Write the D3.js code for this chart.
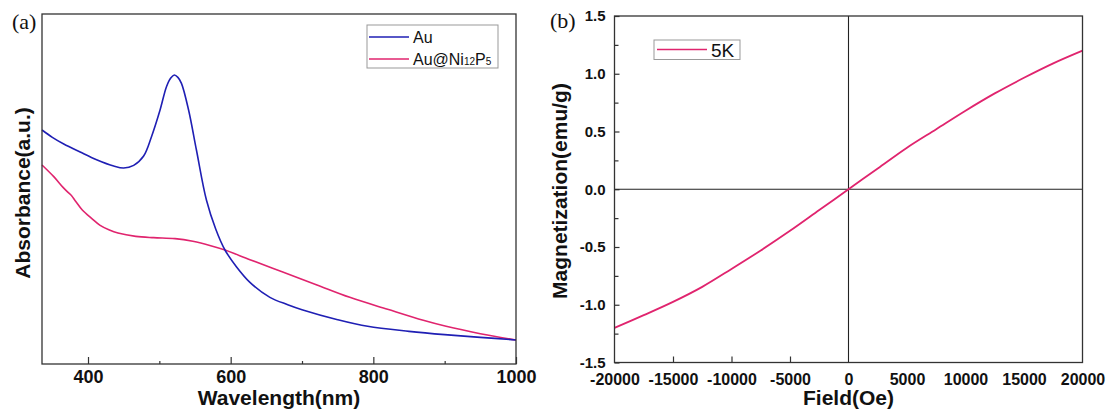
<!DOCTYPE html>
<html lang="en">
<head>
  <meta charset="UTF-8">
  <title>Au / Au@Ni12P5 absorbance and M-H curve</title>
  <script src="https://cdn.jsdelivr.net/npm/d3@7/dist/d3.min.js"></script>
  <style>
    body { margin: 0; background: #fff; }
    svg text { font-family: "Liberation Sans", Arial, sans-serif; fill: #111; }
    .tick line { stroke: #333; stroke-width: 1.2; }
    .domain { display: none; }
  </style>
</head>
<body>
<script>
  // (a) UV-vis spectra: wavelength (nm) vs absorbance (a.u.)
  var auWave = [335.5, 350, 366, 389, 412, 436, 450, 464, 478, 489, 501, 510, 516, 521, 526, 531, 541, 552, 566, 579, 592, 608, 627, 655, 680, 700, 750, 792, 850, 900, 950, 1000];
  var auAbs  = [0.702, 0.680, 0.660, 0.636, 0.613, 0.594, 0.588, 0.596, 0.624, 0.682, 0.762, 0.832, 0.858, 0.867, 0.860, 0.842, 0.762, 0.642, 0.492, 0.405, 0.342, 0.292, 0.245, 0.200, 0.178, 0.163, 0.133, 0.113, 0.098, 0.088, 0.080, 0.072];
  var niWave = [335.5, 352, 365, 372, 377, 382, 392, 405, 417, 430, 442, 467, 492, 522, 547, 572, 592, 627, 673, 720, 767, 820, 870, 902, 950, 1000];
  var niAbs  = [0.597, 0.562, 0.530, 0.515, 0.505, 0.490, 0.462, 0.437, 0.416, 0.402, 0.393, 0.383, 0.379, 0.376, 0.368, 0.355, 0.342, 0.313, 0.276, 0.238, 0.200, 0.164, 0.131, 0.113, 0.091, 0.072];
  var waveTicks = [400, 600, 800, 1000];
  var waveMinor = [500, 700, 900];

  // (b) magnetization at 5K: field (Oe) vs M (emu/g)
  var field  = [-20000, -17500, -15000, -12500, -10000, -7500, -5000, -2500, 0, 2500, 5000, 7500, 10000, 12500, 15000, 17500, 20000];
  var magnet = [-1.20, -1.09, -0.975, -0.845, -0.69, -0.53, -0.36, -0.18, 0, 0.18, 0.36, 0.52, 0.68, 0.83, 0.965, 1.09, 1.20];
  var fieldLabels = [-20000, -15000, -10000, -5000, 0, 5000, 10000, 15000, 20000];
  var fieldTicks  = [-15000, -10000, -5000];
  var magTicks  = [-1.5, -1.0, -0.5, 0.0, 0.5, 1.0, 1.5];
  var magMinor  = [-1.25, -0.75, -0.25, 0.25, 0.75, 1.25];

  var blue = "#1f1fb4", pink = "#e0246e";

  var svg = d3.select("body").append("svg")
    .attr("width", 1110)
    .attr("height", 412);

  //---------------- panel (a) ----------------
  var xa = d3.scaleLinear().domain([335.5, 1000]).range([42, 516]);
  var ya = d3.scaleLinear().domain([0, 1.05]).range([364, 14]);

  var ga = svg.append("g");

  ga.append("g")
    .attr("transform", "translate(0,364)")
    .call(d3.axisBottom(xa).tickValues(waveMinor).tickSize(-3).tickFormat(""));

  var axA = ga.append("g")
    .attr("transform", "translate(0,364)")
    .call(d3.axisBottom(xa).tickValues(waveTicks).tickSizeInner(-7).tickSizeOuter(0).tickPadding(6)
      .tickFormat(function(d) { return String(d); }));
  axA.selectAll("text").style("font-size", "18px").style("font-weight", "bold");

  var lineA = d3.line().x(function(d) { return xa(d[0]); }).y(function(d) { return ya(d[1]); }).curve(d3.curveCatmullRom.alpha(0.5));

  ga.append("path")
    .datum(d3.zip(niWave, niAbs))
    .attr("d", lineA)
    .attr("fill", "none").attr("stroke", pink).attr("stroke-width", 1.6);
  ga.append("path")
    .datum(d3.zip(auWave, auAbs))
    .attr("d", lineA)
    .attr("fill", "none").attr("stroke", blue).attr("stroke-width", 1.6);

  ga.append("rect")
    .attr("x", 42).attr("y", 14).attr("width", 474).attr("height", 350)
    .attr("fill", "none").attr("stroke", "#333").attr("stroke-width", 1.3);

  ga.append("text")
    .attr("x", 279).attr("y", 405)
    .attr("text-anchor", "middle")
    .style("font-size", "21px").style("font-weight", "bold")
    .text("Wavelength(nm)");

  ga.append("text")
    .attr("transform", "translate(30,193) rotate(-90)")
    .attr("text-anchor", "middle")
    .style("font-size", "21px").style("font-weight", "bold")
    .text("Absorbance(a.u.)");

  ga.append("text")
    .attr("x", 12).attr("y", 29)
    .style("font-family", "'Liberation Serif', 'Times New Roman', serif")
    .style("font-size", "22px")
    .text("(a)");

  // legend (a)
  var legA = ga.append("g");
  legA.append("rect")
    .attr("x", 367).attr("y", 25).attr("width", 131).attr("height", 43)
    .attr("fill", "#fff").attr("stroke", "#999").attr("stroke-width", 1);
  [[blue, 37], [pink, 59]].forEach(function(r) {
    legA.append("line")
      .attr("x1", 369).attr("x2", 409).attr("y1", r[1]).attr("y2", r[1])
      .attr("stroke", r[0]).attr("stroke-width", 1.6);
  });
  legA.append("text").attr("x", 413).attr("y", 43).style("font-size", "16px").text("Au");
  var t2 = legA.append("text").attr("x", 413).attr("y", 65).style("font-size", "16px");
  t2.append("tspan").text("Au@Ni");
  t2.append("tspan").style("font-size", "10px").text("12");
  t2.append("tspan").text("P");
  t2.append("tspan").style("font-size", "10px").text("5");

  //---------------- panel (b) ----------------
  var xb = d3.scaleLinear().domain([-20000, 20000]).range([614.5, 1082.5]);
  var yb = d3.scaleLinear().domain([-1.5, 1.5]).range([362.5, 16]);

  var gb = svg.append("g");

  gb.append("g")
    .attr("transform", "translate(0,362.5)")
    .call(d3.axisBottom(xb).tickValues(fieldTicks).tickSize(-6).tickFormat(""));

  var axBx = gb.append("g")
    .attr("transform", "translate(0,362.5)")
    .call(d3.axisBottom(xb).tickValues(fieldLabels).tickSize(0).tickPadding(11)
      .tickFormat(function(d) { return String(d); }));
  axBx.selectAll("text").style("font-size", "16px").style("font-weight", "bold");

  gb.append("g")
    .attr("transform", "translate(614.5,0)")
    .call(d3.axisLeft(yb).tickValues(magMinor).tickSize(-4).tickFormat(""));

  var axBy = gb.append("g")
    .attr("transform", "translate(614.5,0)")
    .call(d3.axisLeft(yb).tickValues(magTicks).tickSizeInner(-5).tickSizeOuter(0).tickPadding(9)
      .tickFormat(function(d) { return d.toFixed(1); }));
  axBy.selectAll("text").style("font-size", "15px").style("font-weight", "bold");

  // zero lines
  gb.append("line")
    .attr("x1", xb(0)).attr("x2", xb(0)).attr("y1", yb(1.5)).attr("y2", yb(-1.5))
    .attr("stroke", "#222").attr("stroke-width", 1.1);
  gb.append("line")
    .attr("x1", xb(-20000)).attr("x2", xb(20000)).attr("y1", yb(0)).attr("y2", yb(0))
    .attr("stroke", "#222").attr("stroke-width", 1.1);

  var lineB = d3.line().x(function(d) { return xb(d[0]); }).y(function(d) { return yb(d[1]); }).curve(d3.curveCatmullRom.alpha(0.5));
  gb.append("path")
    .datum(d3.zip(field, magnet))
    .attr("d", lineB)
    .attr("fill", "none").attr("stroke", pink).attr("stroke-width", 1.8);

  gb.append("rect")
    .attr("x", 614.5).attr("y", 16).attr("width", 468).attr("height", 346.5)
    .attr("fill", "none").attr("stroke", "#333").attr("stroke-width", 1.3);

  gb.append("text")
    .attr("x", 848.5).attr("y", 405)
    .attr("text-anchor", "middle")
    .style("font-size", "21px").style("font-weight", "bold")
    .text("Field(Oe)");

  gb.append("text")
    .attr("transform", "translate(567,191) rotate(-90)")
    .attr("text-anchor", "middle")
    .style("font-size", "21px").style("font-weight", "bold")
    .text("Magnetization(emu/g)");

  gb.append("text")
    .attr("x", 550).attr("y", 28)
    .style("font-family", "'Liberation Serif', 'Times New Roman', serif")
    .style("font-size", "22px")
    .text("(b)");

  // legend (b)
  var legB = gb.append("g");
  legB.append("rect")
    .attr("x", 654).attr("y", 40).attr("width", 86).attr("height", 19.5)
    .attr("fill", "#fff").attr("stroke", "#999").attr("stroke-width", 1);
  legB.append("line")
    .attr("x1", 657).attr("x2", 707).attr("y1", 49.5).attr("y2", 49.5)
    .attr("stroke", pink).attr("stroke-width", 1.6);
  legB.append("text").attr("x", 711).attr("y", 56.5).style("font-size", "19px").text("5K");
</script>
</body>
</html>
